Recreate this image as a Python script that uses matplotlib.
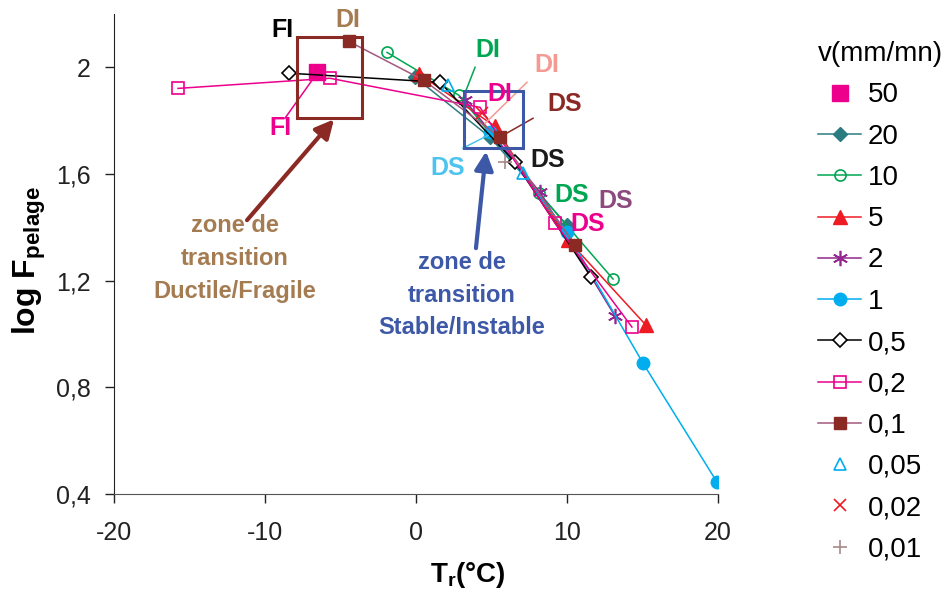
import matplotlib
matplotlib.use('Agg')
import matplotlib.pyplot as plt
from matplotlib.patches import Rectangle
from matplotlib.ticker import FuncFormatter

plt.rcParams['font.family'] = ['Liberation Sans', 'DejaVu Sans']
plt.rcParams['mathtext.fontset'] = 'custom'
plt.rcParams['mathtext.rm'] = 'Liberation Sans'
plt.rcParams['mathtext.bf'] = 'Liberation Sans:bold'

# données : T_r (°C) et log F_pelage pour chaque vitesse
t_50 = [-6.56]
f_50 = [1.981]
t_20 = [-0.07, 4.9, 10.0]
f_20 = [1.963, 1.738, 1.408]
t_10 = [-1.92, 2.85, 8.15, 13.05]
f_10 = [2.056, 1.895, 1.528, 1.206]
t_5 = [0.2, 5.2, 10.07, 15.23]
f_5 = [1.975, 1.78, 1.352, 1.033]
t_2 = [3.24, 8.2, 13.18]
f_2 = [1.876, 1.532, 1.067]
t_1 = [4.9, 10.0, 15.03, 19.93]
f_1 = [1.756, 1.382, 0.891, 0.445]
t_05 = [-8.41, 1.59, 6.56, 11.6]
f_05 = [1.978, 1.944, 1.644, 1.213]
t_02 = [-15.76, -5.70, 4.24, 9.2, 14.3]
f_02 = [1.921, 1.959, 1.85, 1.416, 1.026]
t_01 = [-4.44, 0.53, 5.56, 10.53]
f_01 = [2.097, 1.951, 1.738, 1.333]
t_005 = [2.12, 7.09]
f_005 = [1.933, 1.603]
t_002 = [4.37]
f_002 = [1.828]
t_001 = [5.89]
f_001 = [1.644]

vitesses = ['50', '20', '10', '5', '2', '1', '0,5', '0,2', '0,1', '0,05', '0,02', '0,01']

magenta = '#ec008c'
teal = '#2a7c80'
green = '#00a651'
red = '#ed1c24'
purple = '#92278f'
cyan = '#00aeef'
darkred = '#8b2a24'
mauve = '#a3587e'
tan = '#a57c52'
salmon = '#f49a93'
lightblue = '#4dc4f0'
dpurple = '#8d4a7d'
blue = '#3d58a6'

fig = plt.figure(figsize=(9.49, 5.92), dpi=100)
ax = fig.add_axes([114/949, 1-494/592, 604/949, 480/592])

lw = 1.1
ax.plot(t_50, f_50, ls='none', marker='s', ms=12, color=magenta, label=vitesses[0])
ax.plot(t_20, f_20, '-', lw=lw, marker='D', ms=7, color=teal, label=vitesses[1])
ax.plot(t_10, f_10, '-', lw=lw, marker='o', ms=8, mfc='none', mew=1.2, color=green, label=vitesses[2])
ax.plot(t_5, f_5, '-', lw=lw, marker='^', ms=10, color=red, label=vitesses[3])
ax.plot(t_2, f_2, '-', lw=lw, marker=(6, 2, 0), ms=11, mew=1.2, color=purple, label=vitesses[4])
ax.plot(t_1, f_1, '-', lw=lw, marker='o', ms=9, color=cyan, label=vitesses[5])
ax.plot(t_05, f_05, '-', lw=lw, marker='D', ms=7, mfc='white', mew=1.2, color='black', label=vitesses[6])
ax.plot(t_02, f_02, '-', lw=lw, marker='s', ms=8, mfc='none', mew=1.2, color=magenta, label=vitesses[7])
ax.plot(t_01, f_01, '-', lw=lw, marker='s', ms=9, color=mauve, mfc=darkred, mec=darkred, label=vitesses[8])
ax.plot(t_005, f_005, ls='none', marker='^', ms=9, mfc='none', mew=1.2, color=cyan, label=vitesses[9])
ax.plot(t_002, f_002, ls='none', marker='x', ms=9, mew=1.2, color=red, label=vitesses[10])
ax.plot(t_001, f_001, ls='none', marker='+', ms=10, mew=1.2, color='#a68a8a', label=vitesses[11])

ax.set_xlim(-20, 20)
ax.set_ylim(0.4, 2.2)
ax.set_xticks([-20, -10, 0, 10, 20])
ax.set_yticks([0.4, 0.8, 1.2, 1.6, 2.0])
ax.yaxis.set_major_formatter(FuncFormatter(lambda v, p: ('%g' % v).replace('.', ',')))
ax.xaxis.set_major_formatter(FuncFormatter(lambda v, p: '%d' % v))
ax.tick_params(direction='out', length=6.5, width=1, labelsize=18, colors='#222222')
ax.tick_params(axis='y', pad=10)
ax.tick_params(axis='x', pad=13)
for s in ['top', 'right']:
    ax.spines[s].set_visible(False)
ax.spines['left'].set_color('#222222')
ax.spines['bottom'].set_color('#555555')

ax.set_xlabel('T$_{\\mathbf{r}}$(°C)', fontsize=20, fontweight='bold')
ax.xaxis.set_label_coords((468 - 114) / 604, -(575 - 494) / 480)
ax.xaxis.label.set_va('center')
ax.set_ylabel('log F$_{\\mathbf{pelage}}$', fontsize=23, fontweight='bold')
ax.yaxis.set_label_coords(-(114 - 29) / 604, (494 - 261) / 480)
ax.yaxis.label.set_va('center')

# zones de transition
ax.add_patch(Rectangle((-7.88, 1.809), 4.30, 0.303, fill=False, ec=darkred, lw=2.2, zorder=5))
ax.add_patch(Rectangle((3.18, 1.697), 3.91, 0.213, fill=False, ec=blue, lw=2.2, zorder=5))
ax.annotate('', xy=(-5.43, 1.805), xytext=(-11.19, 1.427),
            arrowprops=dict(arrowstyle='-|>', lw=3, color=darkred, mutation_scale=28, shrinkA=0, shrinkB=0))
ax.annotate('', xy=(4.64, 1.685), xytext=(3.97, 1.322),
            arrowprops=dict(arrowstyle='-|>', lw=3, color=blue, mutation_scale=28, shrinkA=0, shrinkB=0))
ax.text(-11.99, 1.284, 'zone de\ntransition\nDuctile/Fragile', color=tan, fontsize=17,
        fontweight='bold', ha='center', va='center', linespacing=1.55)
ax.text(3.05, 1.146, 'zone de\ntransition\nStable/Instable', color=blue, fontsize=17,
        fontweight='bold', ha='center', va='center', linespacing=1.55)

# étiquettes FI / DI / DS
etiquettes = [
    ('FI', -8.87, 2.139, 'black', None),
    ('DI', -4.5, 2.176, tan, None),
    ('FI', -9.0, 1.771, magenta, ((-8.68, 1.809), (-6.89, 1.951))),
    ('DI', 4.77, 2.064, green, ((3.91, 2.0), (3.11, 1.884))),
    ('DI', 8.68, 2.007, salmon, ((7.35, 1.944), (4.57, 1.79))),
    ('DI', 5.56, 1.899, magenta, None),
    ('DS', 9.87, 1.861, darkred, ((7.75, 1.809), (5.76, 1.745))),
    ('DS', 2.12, 1.622, lightblue, ((3.11, 1.697), (4.77, 1.745))),
    ('DS', 8.74, 1.652, '#1a1a1a', None),
    ('DS', 10.33, 1.52, green, None),
    ('DS', 13.25, 1.498, dpurple, None),
    ('DS', 11.38, 1.412, magenta, None),
]
for txt, x, y, c, ligne in etiquettes:
    ax.text(x, y, txt, color=c, fontsize=18, fontweight='bold', ha='center', va='center', zorder=6)
    if ligne:
        (x0, y0), (x1, y1) = ligne
        ax.plot([x0, x1], [y0, y1], color=c, lw=1.1, zorder=4)

fig.legend(*ax.get_legend_handles_labels(), loc='upper left', bbox_to_anchor=(807/949, 1-30/592),
           title='v(mm/mn)', fontsize=20, title_fontsize=20, frameon=False, alignment='left',
           handlelength=1.55, handletextpad=0.25, labelspacing=0.55, borderaxespad=0)

fig.savefig('out.png', dpi=100)
